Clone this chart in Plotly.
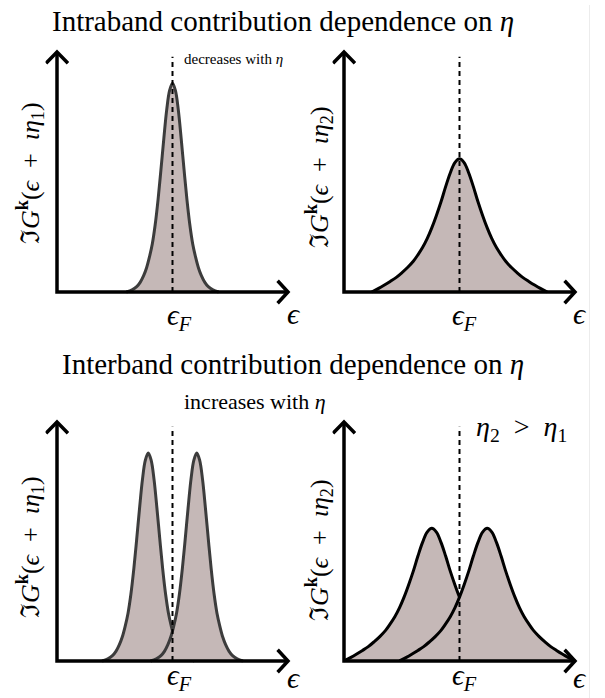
import plotly.graph_objects as go

# ---------------- data (arbitrary units; energy relative to eps_F, axis spans -10..10, arrow top = 1) -------------
NARROW_DX = [0, 0.25, 0.5, 0.75, 1.0, 1.25, 1.5, 1.75, 2.0, 2.25, 2.5, 2.8, 3.1, 3.5, 4.0]
NARROW_H = [0.87, 0.84, 0.76, 0.64, 0.51, 0.385, 0.28, 0.2, 0.145, 0.10, 0.068, 0.04, 0.022, 0.009, 0.0]
WIDE_DX = [0, 0.4, 0.8, 1.2, 1.6, 2.0, 2.4, 2.8, 3.2, 3.6, 4.0, 4.5, 5.0, 5.5, 6.0, 6.5, 7.0, 7.6]
WIDE_H = [0.555, 0.539, 0.496, 0.439, 0.376, 0.319, 0.267, 0.222, 0.185, 0.155, 0.128, 0.102,
          0.080, 0.060, 0.044, 0.029, 0.015, 0.0]

INTRA_CENTER = [0.0]
INTER_CENTERS_NARROW = [-2.1, 2.1]
INTER_CENTERS_WIDE = [-2.4, 2.4]

TITLES = ["Intraband contribution dependence on <i>η</i>",
          "Interband contribution dependence on <i>η</i>"]
NOTES = ["decreases with <i>η</i>", "increases with <i>η</i>",
         "<i>η</i><sub>2</sub>  >  <i>η</i><sub>1</sub>"]
YLABELS = ["ℑ<i>G</i><sup><b>k</b></sup>(<i>ϵ</i>\u2002+\u2002<i>ιη</i><sub>1</sub>)",
           "ℑ<i>G</i><sup><b>k</b></sup>(<i>ϵ</i>\u2002+\u2002<i>ιη</i><sub>2</sub>)"]
XLABEL_F = "<i>ϵ</i><sub><i>F</i></sub>"
XLABEL = "<i>ϵ</i>"

FILL = "#c5b8b7"
GRAY = "#3c3c3c"
FONT = "Liberation Serif, DejaVu Serif, serif"
W, H = 605, 698


def peak(center, dx, h):
    xs = [center - d for d in reversed(dx[1:])] + [center + d for d in dx]
    ys = list(reversed(h[1:])) + list(h)
    pts = [(x, y) for x, y in zip(xs, ys) if -10 <= x <= 10]
    return [p[0] for p in pts], [p[1] for p in pts]


fig = go.Figure()

xd_left = [45.45 / W, 299.55 / W]
xd_right = [332.45 / W, 586.55 / W]
yd_top = [1 - 306.4 / H, 1 - 42.4 / H]
yd_bot = [1 - 675.3 / H, 1 - 412.4 / H]
panels = [
    ("x", "y", xd_left, yd_top, NARROW_DX, NARROW_H, INTRA_CENTER, GRAY),
    ("x2", "y2", xd_right, yd_top, WIDE_DX, WIDE_H, INTRA_CENTER, "black"),
    ("x3", "y3", xd_left, yd_bot, NARROW_DX, NARROW_H, INTER_CENTERS_NARROW, GRAY),
    ("x4", "y4", xd_right, yd_bot, WIDE_DX, WIDE_H, INTER_CENTERS_WIDE, "black"),
]

layout_axes = {}
for i, (xa, ya, xd, yd, dx, hh, centers, col) in enumerate(panels):
    for c in centers:
        px, py = peak(c, dx, hh)
        fig.add_trace(go.Scatter(x=px, y=py, mode="lines", xaxis=xa, yaxis=ya,
                                 line=dict(color=col, width=3, shape="spline", smoothing=1.0),
                                 fill="tozeroy", fillcolor=FILL, hoverinfo="skip"))
    fig.add_trace(go.Scatter(x=[0, 0], y=[0, 0.98], mode="lines", xaxis=xa, yaxis=ya,
                             line=dict(color="black", width=2, dash="5px,4px"), hoverinfo="skip"))
    fig.add_trace(go.Scatter(x=[-10, -10, 10], y=[1, 0, 0], mode="lines", xaxis=xa, yaxis=ya,
                             line=dict(color="black", width=3.5), hoverinfo="skip"))
    fig.add_trace(go.Scatter(x=[9.1, 10, 9.1], y=[0.047, 0, -0.047], mode="lines", xaxis=xa, yaxis=ya,
                             line=dict(color="black", width=3.5), hoverinfo="skip"))
    fig.add_trace(go.Scatter(x=[-10.95, -10, -9.05], y=[0.953, 1, 0.953], mode="lines", xaxis=xa, yaxis=ya,
                             line=dict(color="black", width=3.5), hoverinfo="skip"))
    n = "" if i == 0 else str(i + 1)
    layout_axes["xaxis" + n] = dict(domain=xd, range=[-11, 11], visible=False, fixedrange=True)
    layout_axes["yaxis" + n] = dict(domain=yd, range=[-0.06, 1.04], visible=False, fixedrange=True)

fig.update_layout(**layout_axes)


def ann(text, x, y, size, angle=0):
    return dict(text=text, x=x / W, y=1 - y / H, xref="paper", yref="paper",
                showarrow=False, xanchor="center", yanchor="middle", textangle=angle,
                font=dict(family=FONT, size=size, color="black"))


annotations = [
    ann(TITLES[0], 283, 21, 29),
    ann(TITLES[1], 293, 364, 29),
    ann(NOTES[0], 233, 59, 15),
    ann(NOTES[1], 255, 401, 22),
    ann(NOTES[2], 521, 428, 28),
    ann(YLABELS[0], 30, 173, 26, -90),
    ann(YLABELS[1], 319, 177, 26, -90),
    ann(YLABELS[0], 30, 547, 26, -90),
    ann(YLABELS[1], 319, 550, 26, -90),
]
for (xc, yc) in [(179, 317), (464, 317), (179, 677), (464, 677)]:
    annotations.append(ann(XLABEL_F, xc, yc, 29))
for (xc, yc) in [(294, 313), (580, 313), (294, 677), (580, 677)]:
    annotations.append(ann(XLABEL, xc, yc, 30))

fig.update_layout(
    width=W, height=H, margin=dict(l=0, r=0, t=0, b=0),
    paper_bgcolor="white", plot_bgcolor="white", showlegend=False,
    annotations=annotations,
    shapes=[dict(type="line", xref="paper", yref="paper", x0=589.5 / W, x1=589.5 / W,
                 y0=0, y1=1 - 5 / H, line=dict(color="#ececec", width=1))],
)

fig.write_html("out.html")
